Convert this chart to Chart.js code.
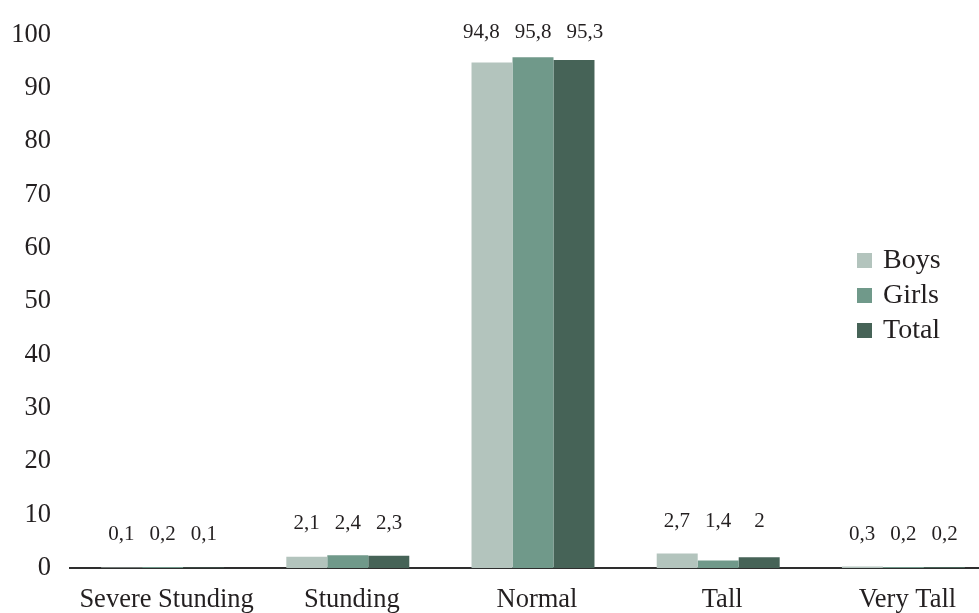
<!DOCTYPE html>
<html>
<head>
<meta charset="utf-8">
<script src="https://cdn.jsdelivr.net/npm/chart.js@4.4.1/dist/chart.umd.min.js"></script>
<style>
html,body{margin:0;padding:0;background:#fff;overflow:hidden;width:979px;height:613px;}
#wrap{width:1000px;height:613px;}
</style>
</head>
<body>
<div id="wrap"><canvas id="c" width="1000" height="613"></canvas></div>
<script>
const categories = ["Severe Stunding", "Stunding", "Normal", "Tall", "Very Tall"];
const boys  = [0.1, 2.1, 94.8, 2.7, 0.3];
const girls = [0.2, 2.4, 95.8, 1.4, 0.2];
const total = [0.1, 2.3, 95.3, 2.0, 0.2];
const seriesNames = ["Boys", "Girls", "Total"];
const seriesColors = ["#b3c4bd", "#70998a", "#466357"];

const FONT = "'Liberation Serif', 'DejaVu Serif', serif";
const TXT = "#231f20";

const fmt = v => String(v).replace('.', ',');

const dataLabels = {
  id: 'dataLabels',
  afterDatasetsDraw(chart) {
    const ctx = chart.ctx;
    const y = chart.scales.y;
    ctx.save();
    ctx.font = "21px " + FONT;
    ctx.fillStyle = TXT;
    ctx.textAlign = 'center';
    ctx.textBaseline = 'middle';
    const n = chart.data.labels.length;
    for (let i = 0; i < n; i++) {
      let maxV = -Infinity;
      const xs = [], texts = [];
      chart.data.datasets.forEach((ds, d) => {
        const el = chart.getDatasetMeta(d).data[i];
        maxV = Math.max(maxV, ds.data[i]);
        xs.push(el.x);
        texts.push(fmt(ds.data[i]));
      });
      const ty = Math.max(32, y.getPixelForValue(maxV) - 32);
      const maxW = Math.max(...texts.map(t => ctx.measureText(t).width));
      const spacing = xs.length > 1 ? (xs[xs.length - 1] - xs[0]) / (xs.length - 1) : 0;
      const need = maxW + 15;
      const center = (xs[0] + xs[xs.length - 1]) / 2;
      const sp = Math.max(spacing, need);
      texts.forEach((t, k) => {
        const x = center + (k - (texts.length - 1) / 2) * sp;
        ctx.fillText(t, x, ty);
      });
    }
    ctx.restore();
  }
};

const customLegend = {
  id: 'customLegend',
  afterDraw(chart) {
    const ctx = chart.ctx;
    ctx.save();
    ctx.font = "28px " + FONT;
    ctx.textBaseline = 'middle';
    ctx.textAlign = 'left';
    chart.data.datasets.forEach((ds, d) => {
      const cy = 260 + d * 35;
      ctx.fillStyle = ds.backgroundColor;
      ctx.fillRect(857, cy - 7, 15, 15);
      ctx.fillStyle = TXT;
      ctx.fillText(ds.label, 883, cy + 1);
    });
    ctx.restore();
  }
};

new Chart(document.getElementById('c'), {
  type: 'bar',
  data: {
    labels: categories,
    datasets: [
      { label: seriesNames[0], data: boys,  backgroundColor: seriesColors[0] },
      { label: seriesNames[1], data: girls, backgroundColor: seriesColors[1] },
      { label: seriesNames[2], data: total, backgroundColor: seriesColors[2] }
    ]
  },
  options: {
    responsive: false,
    animation: false,
    layout: { padding: { top: 33, right: 4, left: 0, bottom: 0 } },
    datasets: { bar: { categoryPercentage: 0.664, barPercentage: 1.0, borderWidth: 0 } },
    plugins: { legend: { display: false }, tooltip: { enabled: false } },
    scales: {
      x: {
        grid: { display: false, drawTicks: false },
        border: { display: true, color: '#2e2e2e', width: 2 },
        ticks: { color: TXT, font: { family: FONT, size: 26.5 }, padding: 16, labelOffset: 4, maxRotation: 0, autoSkip: false },
        afterFit(s) { s.height = 45; }
      },
      y: {
        min: 0, max: 100,
        grid: { display: false, drawTicks: false },
        border: { display: false },
        ticks: { stepSize: 10, color: TXT, font: { family: FONT, size: 26.5 }, padding: 19 },
        afterFit(s) { s.width = 70; }
      }
    }
  },
  plugins: [dataLabels, customLegend]
});
</script>
</body>
</html>
